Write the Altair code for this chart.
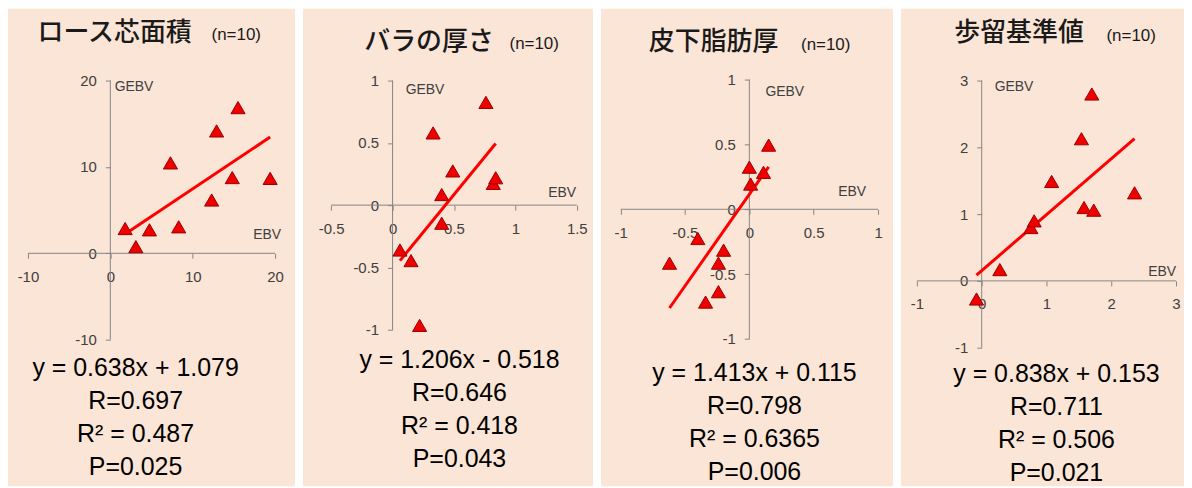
import altair as alt
import pandas as pd

titles = ["ロース芯面積", "バラの厚さ", "皮下脂肪厚", "歩留基準値"]
n_label = "(n=10)"

ebv_1 = [1.8, 3.1, 4.75, 7.3, 8.3, 12.3, 12.9, 14.8, 15.5, 19.4]
gebv_1 = [2.8, 0.7, 2.65, 10.4, 3.0, 6.1, 14.1, 8.7, 16.8, 8.6]
ebv_2 = [0.06, 0.15, 0.22, 0.33, 0.40, 0.40, 0.49, 0.76, 0.82, 0.84]
gebv_2 = [-0.365, -0.45, -0.97, 0.575, 0.08, -0.15, 0.27, 0.82, 0.17, 0.215]
ebv_3 = [-0.62, -0.40, -0.34, -0.24, -0.24, -0.20, 0.0, 0.01, 0.11, 0.15]
gebv_3 = [-0.42, -0.23, -0.72, -0.42, -0.64, -0.32, 0.32, 0.19, 0.28, 0.49]
ebv_4 = [-0.08, 0.28, 0.76, 0.81, 1.08, 1.54, 1.58, 1.73, 1.70, 2.36]
gebv_4 = [-0.28, 0.16, 0.79, 0.89, 1.48, 2.12, 1.09, 1.05, 2.79, 1.31]

slopes = [0.638, 1.206, 1.413, 0.838]
intercepts = [1.079, -0.518, 0.115, 0.153]
eq_labels = ["y = 0.638x + 1.079", "y = 1.206x - 0.518", "y = 1.413x + 0.115", "y = 0.838x + 0.153"]
r_labels = ["R=0.697", "R=0.646", "R=0.798", "R=0.711"]
r2_labels = ["R² = 0.487", "R² = 0.418", "R² = 0.6365", "R² = 0.506"]
p_labels = ["P=0.025", "P=0.043", "P=0.006", "P=0.021"]

x_ticks = [[-10, 0, 10, 20], [-0.5, 0, 0.5, 1, 1.5], [-1, -0.5, 0, 0.5, 1], [-1, 0, 1, 2, 3]]
y_ticks = [[-10, 0, 10, 20], [-1, -0.5, 0, 0.5, 1], [-1, -0.5, 0, 0.5, 1], [-1, 0, 1, 2, 3]]

ebvs = [ebv_1, ebv_2, ebv_3, ebv_4]
gebvs = [gebv_1, gebv_2, gebv_3, gebv_4]

# ---- layout (image pixel coordinates) ----
TOP = 8
H = 479
panel_left = [8, 304, 603, 904]
panel_w = [288, 291, 293, 284]
# pixel position of first / last x tick, first / last y tick
x_px = [(28, 276), (332.3, 578.7), (622.7, 881), (920, 1180)]
y_px = [(340, 80), (330, 80), (339.3, 79), (348, 80)]
title_pos = [(115, 32), (430.5, 41), (716, 41), (1022.5, 32)]
n_pos = [(237, 34), (536, 43), (828.5, 44), (1135, 35)]
gebv_pos = [(115, 86), (407, 89), (768, 91), (998, 86)]
ebv_pos = [(282, 235), (578, 193), (869, 192), (1180, 272)]
stat_pos = [(136, 368), (461, 360), (757, 373), (1060, 374)]
LINE_GAP = 33.3

PEACH = "#FBE5D6"
AXIS_C = "#868686"
LABEL_C = "#404040"
FONT = "Liberation Sans"
JFONT = "Noto Sans CJK JP"
TRI = "M-1,0.78L0,-0.95L1,0.78Z"


def panel(i):
    L = panel_left[i]
    W = panel_w[i]
    xt, yt = x_ticks[i], y_ticks[i]
    (pa, pb) = x_px[i]
    pa -= L
    pb -= L
    kx = (xt[-1] - xt[0]) / (pb - pa)
    x0 = xt[0] - pa * kx
    xdom = [x0, x0 + W * kx]
    (qa, qb) = y_px[i]
    qa -= TOP
    qb -= TOP
    ky = (yt[-1] - yt[0]) / (qb - qa)  # negative
    ytop = yt[0] - qa * ky
    ybot = yt[0] + (H - qa) * ky
    ydom = [ybot, ytop]
    zero_px_x = (0 - xdom[0]) / kx
    zero_px_y = (0 - ytop) / ky

    xs = alt.Scale(domain=xdom, nice=False, zero=False)
    ys = alt.Scale(domain=ydom, nice=False, zero=False)
    xa = alt.Axis(values=xt, offset=zero_px_y - H, domain=False, grid=False, title=None,
                  tickColor=AXIS_C, tickSize=5, labelPadding=11, labelFont=FONT, labelFontSize=15,
                  labelColor=LABEL_C, labelOverlap=False, labelFlush=False, labelBound=False,
                  labelExpr="datum.value + ''")
    ya = alt.Axis(values=yt, offset=-zero_px_x, domain=False, grid=False, title=None,
                  tickColor=AXIS_C, tickSize=5, labelPadding=9, labelFont=FONT, labelFontSize=15,
                  labelColor=LABEL_C, labelOverlap=False, labelFlush=False, labelBound=False,
                  labelExpr="datum.value + ''")

    pts = pd.DataFrame({"x": ebvs[i], "y": gebvs[i]})
    lo, hi = min(ebvs[i]), max(ebvs[i])
    line_df = pd.DataFrame({"x": [lo, hi],
                            "y": [slopes[i] * lo + intercepts[i], slopes[i] * hi + intercepts[i]]})
    axes_df = pd.DataFrame({"x": [xt[0], 0], "x2": [xt[-1], 0],
                            "y": [0, yt[0]], "y2": [0, yt[-1]]})

    rules = alt.Chart(axes_df).mark_rule(color=AXIS_C, strokeWidth=1).encode(
        x=alt.X("x:Q", scale=xs, axis=xa), x2="x2:Q",
        y=alt.Y("y:Q", scale=ys, axis=ya), y2="y2:Q")
    line = alt.Chart(line_df).mark_line(color="#FF0000", strokeWidth=3).encode(
        x=alt.X("x:Q", scale=xs, axis=xa), y=alt.Y("y:Q", scale=ys, axis=ya))
    points = alt.Chart(pts).mark_point(shape=TRI, filled=True, size=200, fill="#EE0000",
                                       stroke="#9A0000", strokeWidth=1, opacity=1).encode(
        x=alt.X("x:Q", scale=xs, axis=xa), y=alt.Y("y:Q", scale=ys, axis=ya))

    def txt(t, pos, size, font, align="center", weight="normal", color="#000000"):
        return alt.Chart(pd.DataFrame({"t": [t]})).mark_text(
            font=font, fontSize=size, align=align, baseline="middle", fontWeight=weight,
            color=color).encode(x=alt.value(pos[0] - L), y=alt.value(pos[1] - TOP), text="t:N")

    layers = [rules, line, points,
              txt(titles[i], title_pos[i], 26, JFONT, weight=500, color="#1a1a1a"),
              txt(n_label, n_pos[i], 17, FONT, color="#1a1a1a"),
              txt("GEBV", gebv_pos[i], 14, FONT, align="left", color=LABEL_C),
              txt("EBV", ebv_pos[i], 14, FONT, align="right", color=LABEL_C)]
    sx, sy = stat_pos[i]
    for j, s in enumerate([eq_labels[i], r_labels[i], r2_labels[i], p_labels[i]]):
        layers.append(txt(s, (sx, sy + j * LINE_GAP), 25, FONT, color="#000000"))
    return alt.layer(*layers).properties(width=W, height=H)


chart = alt.hconcat(*[panel(i) for i in range(4)], spacing=8).properties(
    padding=0, background="#FFFFFF"
).configure_view(fill=PEACH, stroke=None)

chart.save("out.html", embed_options={"renderer": "svg", "actions": False})
